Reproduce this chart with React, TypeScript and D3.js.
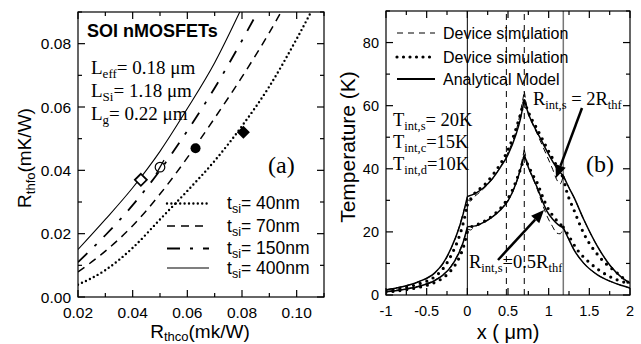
import React from 'react';
import * as d3 from 'd3';

// ---- panel (a): Rthfo vs Rthco ----
const rthcoTicks = [0.02, 0.04, 0.06, 0.08, 0.1];
const rthfoTicks = [0, 0.02, 0.04, 0.06, 0.08];

const tsi40 = [[0.02, 0.0039], [0.03, 0.0085], [0.04, 0.0155], [0.05, 0.0245], [0.06, 0.0335], [0.07, 0.043], [0.08, 0.054], [0.09, 0.0665], [0.1, 0.0815], [0.11, 0.098]];
const tsi70 = [[0.02, 0.0079], [0.03, 0.0145], [0.04, 0.0225], [0.05, 0.0325], [0.06, 0.044], [0.07, 0.0565], [0.08, 0.0695], [0.09, 0.0835], [0.1, 0.099]];
const tsi150 = [[0.02, 0.011], [0.03, 0.0195], [0.04, 0.029], [0.05, 0.04], [0.06, 0.0525], [0.07, 0.066], [0.08, 0.081], [0.09, 0.097]];
const tsi400 = [[0.02, 0.015], [0.03, 0.0245], [0.04, 0.0345], [0.05, 0.046], [0.06, 0.0595], [0.07, 0.074], [0.08, 0.0915]];

const openDiamond = [0.043, 0.037];
const slashCircle = [0.05, 0.041];
const filledCircle = [0.063, 0.047];
const filledDiamond = [0.0805, 0.052];

const legendA = ['40nm', '70nm', '150nm', '400nm'];

// ---- panel (b): temperature profile ----
const xTicksB = [-1, -0.5, 0, 0.5, 1, 1.5, 2];
const yTicksB = [0, 20, 40, 60, 80];
const kinks = [0, 0.7, 1.18];

const upperSolid = [[-1, 1.6], [-0.8, 2.6], [-0.6, 4.2], [-0.4, 7.0], [-0.3, 10.0], [-0.2, 14.8], [-0.1, 21.4], [-0.05, 25.8], [0, 31.2],
  [0.1, 32.2], [0.2, 34.0], [0.3, 36.6], [0.4, 40.2], [0.5, 44.5], [0.6, 51.0], [0.65, 55.5], [0.7, 62.0],
  [0.75, 57.5], [0.8, 54.5], [0.86, 51.5], [0.92, 48.5], [0.98, 45.5], [1.05, 42.3], [1.12, 39.5], [1.18, 37.8],
  [1.25, 34.0], [1.31, 31.0], [1.43, 24.0], [1.6, 15.4], [1.76, 9.2], [1.9, 5.5], [2, 3.8]];
const lowerSolid = [[-1, 1.0], [-0.8, 1.7], [-0.6, 2.7], [-0.4, 4.6], [-0.3, 6.3], [-0.2, 9.0], [-0.1, 13.5], [-0.05, 16.8], [0, 21.6],
  [0.1, 21.9], [0.2, 23.0], [0.3, 24.6], [0.4, 26.8], [0.5, 29.8], [0.6, 35.5], [0.65, 39.5], [0.7, 44.5],
  [0.75, 40.5], [0.8, 37.5], [0.86, 34.0], [0.92, 30.0], [0.98, 26.5], [1.05, 24.0], [1.12, 22.2], [1.18, 21.3],
  [1.25, 17.5], [1.31, 14.4], [1.43, 10.1], [1.6, 6.4], [1.76, 4.3], [1.9, 3.0], [2, 2.2]];
const upperDotted = [[-1, 1.4], [-0.8, 2.2], [-0.6, 3.5], [-0.4, 5.8], [-0.3, 8.3], [-0.2, 12.5], [-0.1, 18.5], [-0.05, 22.8], [0, 28.5],
  [0.05, 30.8], [0.1, 32.5], [0.2, 34.6], [0.3, 37.6], [0.4, 41.3], [0.5, 46.0], [0.6, 52.8], [0.65, 57.0], [0.7, 61.5],
  [0.75, 58.0], [0.8, 55.3], [0.86, 52.5], [0.92, 49.5], [0.98, 46.5], [1.05, 43.2], [1.12, 40.0], [1.18, 37.2],
  [1.22, 33.0], [1.31, 27.0], [1.43, 19.6], [1.62, 12.2], [1.85, 6.8], [2, 3.5]];
const lowerDotted = [[-1, 0.9], [-0.8, 1.5], [-0.6, 2.4], [-0.4, 4.0], [-0.3, 5.4], [-0.2, 7.8], [-0.1, 11.8], [-0.05, 15.0], [0, 20.0],
  [0.05, 21.6], [0.15, 22.6], [0.25, 24.0], [0.35, 26.0], [0.45, 28.8], [0.55, 33.0], [0.62, 37.5], [0.7, 43.5],
  [0.75, 41.0], [0.8, 38.3], [0.86, 35.5], [0.92, 31.5], [0.98, 28.0], [1.05, 25.2], [1.12, 23.0], [1.18, 21.5],
  [1.23, 19.5], [1.35, 14.4], [1.51, 10.1], [1.71, 6.4], [1.96, 3.8], [2, 3.5]];
const upperDashed = [[-1, 1.7], [-0.8, 2.7], [-0.6, 4.2], [-0.4, 7.0], [-0.3, 9.8], [-0.2, 14.7], [-0.1, 21.6], [-0.05, 26.2], [0, 30.3],
  [0.04, 29.8], [0.08, 31.0], [0.15, 32.5], [0.25, 35.0], [0.35, 38.3], [0.45, 42.6], [0.55, 48.3], [0.62, 54.0], [0.7, 64.5],
  [0.75, 57.5], [0.8, 54.3], [0.86, 51.0], [0.92, 47.5], [0.98, 44.0], [1.05, 39.8], [1.1, 36.5], [1.14, 35.2], [1.18, 37.8],
  [1.25, 34.0], [1.31, 31.0], [1.43, 24.0], [1.6, 15.4], [1.76, 9.2], [1.9, 5.5], [2, 3.8]];
const lowerDashed = [[-1, 1.1], [-0.8, 1.8], [-0.6, 2.8], [-0.4, 4.7], [-0.3, 6.4], [-0.2, 9.2], [-0.1, 13.8], [-0.05, 17.0], [0, 21.0],
  [0.04, 20.6], [0.08, 21.5], [0.15, 22.3], [0.25, 23.7], [0.35, 25.6], [0.45, 28.3], [0.55, 32.3], [0.62, 37.0], [0.7, 46.0],
  [0.75, 40.8], [0.8, 37.3], [0.86, 33.5], [0.92, 29.0], [0.98, 25.0], [1.05, 21.6], [1.1, 19.6], [1.14, 19.4], [1.18, 21.3],
  [1.25, 17.5], [1.31, 14.4], [1.43, 10.1], [1.6, 6.4], [1.76, 4.3], [1.9, 3.0], [2, 2.2]];

const solidVLines = [0, 1.18];
const dashedVLines = [0.48, 0.7];

const SANS = '"Liberation Sans", Arial, sans-serif';
const SERIF = '"Liberation Serif", "Times New Roman", serif';

const xA = d3.scaleLinear().domain([0.02, 0.11]).range([78, 324]);
const yA = d3.scaleLinear().domain([0, 0.09]).range([297, 12]);
const xB = d3.scaleLinear().domain([-1, 2]).range([386, 630]);
const yB = d3.scaleLinear().domain([0, 90]).range([295, 11]);

const splitAtKinks = (pts) => {
  const segs = [];
  let cur = [];
  pts.forEach((p) => {
    cur.push(p);
    if (kinks.includes(p[0]) && cur.length > 1) {
      segs.push(cur);
      cur = [p];
    }
  });
  if (cur.length > 1) segs.push(cur);
  return segs;
};

const Frame = ({ x, y, xMajor, xMinor, yMajor, yMinor }) => {
  const [x0, x1] = x.range();
  const [y0, y1] = y.range();
  const ticks = [];
  xMinor.forEach((v, i) => {
    const len = xMajor.some((m) => Math.abs(m - v) < 1e-9) ? 7 : 4;
    ticks.push(<line key={'xb' + i} x1={x(v)} x2={x(v)} y1={y0} y2={y0 - len} />);
    ticks.push(<line key={'xt' + i} x1={x(v)} x2={x(v)} y1={y1} y2={y1 + len} />);
  });
  yMinor.forEach((v, i) => {
    const len = yMajor.some((m) => Math.abs(m - v) < 1e-9) ? 7 : 4;
    ticks.push(<line key={'yl' + i} x1={x0} x2={x0 + len} y1={y(v)} y2={y(v)} />);
    ticks.push(<line key={'yr' + i} x1={x1} x2={x1 - len} y1={y(v)} y2={y(v)} />);
  });
  return (
    <g stroke="#000" strokeWidth={1.2} fill="none">
      {ticks}
      <rect x={x0} y={y1} width={x1 - x0} height={y0 - y1} />
    </g>
  );
};

const Arrow = ({ from, to }) => {
  const [x1, y1] = from;
  const [x2, y2] = to;
  const a = Math.atan2(y2 - y1, x2 - x1);
  const L = 13, W = 5.5;
  const bx = x2 - L * Math.cos(a), by = y2 - L * Math.sin(a);
  const p = [
    [x2, y2],
    [bx + W * Math.sin(a), by - W * Math.cos(a)],
    [bx - W * Math.sin(a), by + W * Math.cos(a)],
  ];
  return (
    <g>
      <line x1={x1} y1={y1} x2={bx} y2={by} stroke="#000" strokeWidth={2.5} />
      <polygon points={p.map((q) => q.join(',')).join(' ')} fill="#000" />
    </g>
  );
};

export default function App() {
  const lineA = d3.line().x((d) => xA(d[0])).y((d) => yA(d[1])).curve(d3.curveMonotoneX);
  const lineB = d3.line().x((d) => xB(d[0])).y((d) => yB(d[1])).curve(d3.curveMonotoneX);
  const pathB = (pts) => splitAtKinks(pts).map((s) => lineB(s)).join('');

  const aMinorX = d3.range(0, 10).map((i) => 0.02 + i * 0.01);
  const aMinorY = d3.range(0, 10).map((i) => i * 0.01);
  const bMinorX = d3.range(0, 13).map((i) => -1 + i * 0.25);
  const bMinorY = d3.range(0, 10).map((i) => i * 10);

  const legendStyles = [
    { dash: '0 4.4', width: 2.4, cap: 'round' },
    { dash: '8 6', width: 1.5, cap: 'butt' },
    { dash: '13 10 3 10', width: 1.8, cap: 'butt' },
    { dash: null, width: 1.1, cap: 'butt' },
  ];
  const seriesA = [tsi40, tsi70, tsi150, tsi400];

  const dia = (cx, cy, r) => `${cx},${cy - r} ${cx + r},${cy} ${cx},${cy + r} ${cx - r},${cy}`;

  const legB = [
    { label: 'Device simulation', dash: '6 5', width: 1.1, cap: 'butt', y: 33 },
    { label: 'Device simulation', dash: '0 6.5', width: 3.2, cap: 'round', y: 57 },
    { label: 'Analytical Model', dash: null, width: 2, cap: 'butt', y: 79 },
  ];

  return (
    <div style={{ position: 'fixed', left: 0, top: 0 }}>
      <svg width={641} height={344} style={{ display: 'block', background: '#fff' }}>
        <defs>
          <clipPath id="clipA">
            <rect x={78} y={12} width={246} height={285} />
          </clipPath>
          <clipPath id="clipB">
            <rect x={386} y={11} width={244} height={284} />
          </clipPath>
        </defs>

        {/* ---------- panel (a) ---------- */}
        <g clipPath="url(#clipA)" fill="none" stroke="#000">
          {seriesA.map((s, i) => (
            <path key={i} d={lineA(s)} strokeWidth={legendStyles[i].width}
              strokeDasharray={legendStyles[i].dash || undefined} strokeLinecap={legendStyles[i].cap} />
          ))}
        </g>
        <polygon points={dia(xA(openDiamond[0]), yA(openDiamond[1]), 6)} fill="#fff" stroke="#000" strokeWidth={1.8} />
        <circle cx={xA(slashCircle[0])} cy={yA(slashCircle[1])} r={4.8} fill="#fff" stroke="#000" strokeWidth={1.2} />
        <line x1={xA(slashCircle[0]) - 4} y1={yA(slashCircle[1]) + 7} x2={xA(slashCircle[0]) + 4} y2={yA(slashCircle[1]) - 7} stroke="#000" strokeWidth={1.2} />
        <circle cx={xA(filledCircle[0])} cy={yA(filledCircle[1])} r={5} fill="#000" />
        <polygon points={dia(xA(filledDiamond[0]), yA(filledDiamond[1]), 6.5)} fill="#000" />

        <Frame x={xA} y={yA} xMajor={rthcoTicks} xMinor={aMinorX} yMajor={rthfoTicks} yMinor={aMinorY} />
        <g fontFamily={SANS} fontSize={15.5} fill="#000">
          {rthcoTicks.map((t) => (
            <text key={t} x={xA(t)} y={318} textAnchor="middle">{t.toFixed(2)}</text>
          ))}
          {rthfoTicks.map((t) => (
            <text key={t} x={71} y={yA(t) + 5.5} textAnchor="end">{t.toFixed(2)}</text>
          ))}
        </g>
        <text x={200} y={338} textAnchor="middle" fontFamily={SANS} fontSize={19}>
          R<tspan fontSize={13} dy={3}>thco</tspan><tspan dy={-3}>(mk/W)</tspan>
        </text>
        <text transform="translate(31,158) rotate(-90)" textAnchor="middle" fontFamily={SANS} fontSize={19}>
          R<tspan fontSize={13} dy={4}>thfo</tspan><tspan dy={-4}>(mK/W)</tspan>
        </text>

        <text x={87} y={37} fontFamily={SANS} fontWeight="bold" fontSize={18}>SOI nMOSFETs</text>
        <g fontFamily={SERIF} fontSize={19}>
          <text x={91} y={74}>L<tspan fontSize={13} dy={4}>eff</tspan><tspan dy={-4}>= 0.18 μm</tspan></text>
          <text x={91} y={97}>L<tspan fontSize={13} dy={4}>Si</tspan><tspan dy={-4}>= 1.18 μm</tspan></text>
          <text x={91} y={120}>L<tspan fontSize={13} dy={4}>g</tspan><tspan dy={-4}>= 0.22 μm</tspan></text>
        </g>
        <text x={268} y={173} fontFamily={SERIF} fontSize={24}>(a)</text>

        {legendA.map((lab, i) => {
          const ly = [203.5, 226, 248.5, 268][i];
          const st = legendStyles[i];
          return (
            <g key={lab}>
              <line x1={167} x2={209} y1={ly} y2={ly} stroke="#000" strokeWidth={st.width}
                strokeDasharray={st.dash || undefined} strokeLinecap={st.cap} />
              <text x={227} y={ly + 5.5} fontFamily={SANS} fontSize={17.5}>
                t<tspan fontSize={12.5} dy={4}>si</tspan><tspan dy={-4}>= {lab}</tspan>
              </text>
            </g>
          );
        })}

        {/* ---------- panel (b) ---------- */}
        <g stroke="#000" strokeWidth={1} fill="none">
          {solidVLines.map((v, i) => (
            <line key={v} x1={xB(v)} x2={xB(v)} y1={yB(0)} y2={yB(90)} stroke={i === 0 ? '#000' : '#777'} strokeWidth={i === 0 ? 1 : 1.5} />
          ))}
          {dashedVLines.map((v) => (
            <line key={v} x1={xB(v)} x2={xB(v)} y1={yB(0)} y2={yB(90)} strokeDasharray="6 5" />
          ))}
        </g>
        <g clipPath="url(#clipB)" fill="none" stroke="#000">
          {[upperDashed, lowerDashed].map((c, i) => (
            <path key={'d' + i} d={pathB(c)} strokeWidth={1} strokeDasharray="6 4" />
          ))}
          {[upperDotted, lowerDotted].map((c, i) => (
            <path key={'p' + i} d={pathB(c)} strokeWidth={3.2} strokeDasharray="0 7" strokeLinecap="round" />
          ))}
          {[upperSolid, lowerSolid].map((c, i) => (
            <path key={'s' + i} d={pathB(c)} strokeWidth={1.5} />
          ))}
        </g>
        <Frame x={xB} y={yB} xMajor={xTicksB} xMinor={bMinorX} yMajor={yTicksB} yMinor={bMinorY} />
        <g fontFamily={SANS} fontSize={14.5} fill="#000">
          {xTicksB.map((t) => (
            <text key={t} x={xB(t)} y={316} textAnchor="middle">{String(t)}</text>
          ))}
          {yTicksB.map((t) => (
            <text key={t} x={379} y={yB(t) + 5} textAnchor="end">{String(t)}</text>
          ))}
        </g>
        <text x={508} y={339} textAnchor="middle" fontFamily={SANS} fontSize={20}>x ( μm)</text>
        <text transform="translate(355,147) rotate(-90)" textAnchor="middle" fontFamily={SANS} fontSize={21}>Temperature (K)</text>

        {legB.map((l, i) => (
          <g key={i}>
            <line x1={397} x2={435} y1={l.y} y2={l.y} stroke="#000" strokeWidth={l.width}
              strokeDasharray={l.dash || undefined} strokeLinecap={l.cap} />
            <text x={443} y={l.y + 5.5} fontFamily={SANS} fontSize={16}>{l.label}</text>
          </g>
        ))}

        <g fontFamily={SERIF} fontSize={18.5}>
          <text x={393} y={126}>T<tspan fontSize={12.5} dy={4}>int,s</tspan><tspan dy={-4}>= 20K</tspan></text>
          <text x={393} y={148}>T<tspan fontSize={12.5} dy={4}>int,c</tspan><tspan dy={-4}>=15K</tspan></text>
          <text x={393} y={170}>T<tspan fontSize={12.5} dy={4}>int,d</tspan><tspan dy={-4}>=10K</tspan></text>
          <text x={533} y={105}>R<tspan fontSize={12.5} dy={4}>int,s</tspan><tspan dy={-4}> = 2R</tspan><tspan fontSize={12.5} dy={4}>thf</tspan></text>
          <text x={469} y={268}>R<tspan fontSize={12.5} dy={4}>int,s</tspan><tspan dy={-4}>=0.5R</tspan><tspan fontSize={12.5} dy={4}>thf</tspan></text>
        </g>
        <text x={586} y={172} fontFamily={SERIF} fontSize={24}>(b)</text>

        <Arrow from={[582, 108]} to={[556, 178]} />
        <Arrow from={[498, 260]} to={[544, 210]} />
      </svg>
    </div>
  );
}
